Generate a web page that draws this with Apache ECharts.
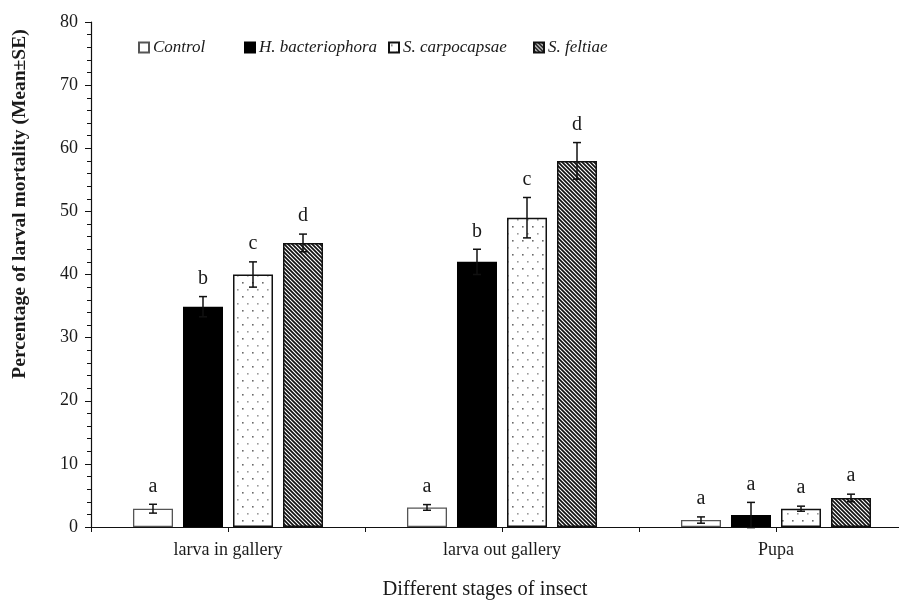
<!DOCTYPE html>
<html>
<head>
<meta charset="utf-8">
<script src="https://cdn.jsdelivr.net/npm/echarts@6/dist/echarts.min.js"></script>
<style>html,body{margin:0;padding:0;background:#fff;overflow:hidden}#c{width:913px;height:600px}</style>
</head>
<body>
<div id="c"></div>
<script>
const categories = ['larva in gallery', 'larva out gallery', 'Pupa'];
const seriesNames = ['Control', 'H. bacteriophora', 'S. carpocapsae', 'S. feltiae'];
const controlMean = [2.9, 3.1, 1.1];
const controlSE = [0.7, 0.45, 0.5];
const controlLetters = ['a', 'a', 'a'];
const hbMean = [34.9, 42.0, 1.9];
const hbSE = [1.6, 2.0, 2.0];
const hbLetters = ['b', 'b', 'a'];
const scMean = [40.0, 49.0, 2.9];
const scSE = [2.0, 3.2, 0.4];
const scLetters = ['c', 'c', 'a'];
const sfMean = [45.0, 58.0, 4.6];
const sfSE = [1.4, 2.9, 0.6];
const sfLetters = ['d', 'd', 'a'];
const yTicks = [0, 10, 20, 30, 40, 50, 60, 70, 80];

const means = [controlMean, hbMean, scMean, sfMean];
const ses = [controlSE, hbSE, scSE, sfSE];
const letters = [controlLetters, hbLetters, scLetters, sfLetters];

function dotPattern() {
  const c = document.createElement('canvas');
  c.width = 10; c.height = 14;
  const g = c.getContext('2d');
  g.fillStyle = '#fff'; g.fillRect(0, 0, 10, 14);
  g.fillStyle = '#6a6a6a';
  g.fillRect(2, 2, 1.6, 1.6);
  g.fillStyle = '#9a9a9a';
  g.fillRect(7, 9, 1.6, 1.6);
  return c;
}
function stripePattern() {
  const c = document.createElement('canvas');
  c.width = 4; c.height = 4;
  const g = c.getContext('2d');
  g.fillStyle = '#fff'; g.fillRect(0, 0, 4, 4);
  g.strokeStyle = '#111'; g.lineWidth = 1.7;
  g.beginPath();
  g.moveTo(-1, -1); g.lineTo(5, 5);
  g.moveTo(-1, 3); g.lineTo(1, 5);
  g.moveTo(3, -1); g.lineTo(5, 1);
  g.stroke();
  return c;
}

const fills = [
  { color: '#fff', borderColor: '#555', borderWidth: 1.3 },
  { color: '#000', borderColor: '#000', borderWidth: 1.3 },
  { color: { image: dotPattern(), repeat: 'repeat' }, borderColor: '#111', borderWidth: 1.5 },
  { color: { image: stripePattern(), repeat: 'repeat' }, borderColor: '#111', borderWidth: 1.5 }
];

const FONT = 'Liberation Serif, Times New Roman, serif';
const BAR_PCT = 0.146, GAP_RATIO = 0.25;

const series = [];
seriesNames.forEach((name, i) => {
  series.push({
    name: name,
    type: 'bar',
    data: means[i],
    barWidth: (BAR_PCT * 100) + '%',
    barGap: (GAP_RATIO * 100) + '%',
    itemStyle: fills[i],
    emphasis: { disabled: true },
    z: 2
  });
});
seriesNames.forEach((name, i) => {
  series.push({
    type: 'custom',
    name: name + ' err',
    coordinateSystem: 'cartesian2d',
    data: categories.map((c, k) => [k, means[i][k], ses[i][k], k]),
    encode: { x: 0, y: 1 },
    clip: false,
    z: 5,
    silent: true,
    renderItem: function (params, api) {
      const k = api.value(0);
      const m = api.value(1);
      const e = api.value(2);
      const bw = api.size([1, 0])[0];
      const barW = bw * BAR_PCT;
      const gap = barW * GAP_RATIO;
      const off = (i - 1.5) * (barW + gap);
      const c = api.coord([k, m]);
      const x = c[0] + off;
      const top = api.coord([k, m + e])[1];
      const bot = api.coord([k, m - e])[1];
      const cap = 4;
      const ls = { stroke: '#111', lineWidth: 1.5 };
      return {
        type: 'group',
        children: [
          { type: 'line', shape: { x1: x, y1: top, x2: x, y2: bot }, style: ls },
          { type: 'line', shape: { x1: x - cap, y1: top, x2: x + cap, y2: top }, style: ls },
          { type: 'line', shape: { x1: x - cap, y1: bot, x2: x + cap, y2: bot }, style: ls },
          { type: 'text', style: { text: letters[i][k], x: x, y: top - 8, align: 'center', verticalAlign: 'bottom', font: '20px ' + FONT, fill: '#1a1a1a' } }
        ]
      };
    }
  });
});

const legendLefts = [133, 239, 383, 528];
const legends = seriesNames.map((n, i) => ({
  data: [n],
  left: legendLefts[i], top: 34,
  itemWidth: 10, itemHeight: 10,
  icon: 'rect',
  textStyle: { fontFamily: FONT, fontStyle: 'italic', fontSize: 17, color: '#1a1a1a', padding: [0, 0, 0, -1] },
  selectedMode: false
}));

const chart = echarts.init(document.getElementById('c'), null, { renderer: 'canvas' });
chart.setOption({
  backgroundColor: '#fff',
  animation: false,
  grid: { left: 91, top: 22, right: 0, height: 505, containLabel: false },
  legend: legends,
  xAxis: [{
    type: 'category',
    data: categories,
    axisLine: { lineStyle: { color: '#111', width: 1.2 } },
    axisTick: { show: true, length: 5, lineStyle: { color: '#111' } },
    axisLabel: { fontFamily: FONT, fontSize: 18, color: '#1a1a1a', margin: 14 },
    splitLine: { show: false }
  }, {
    type: 'category',
    data: categories,
    position: 'bottom',
    axisLine: { show: false },
    axisTick: { show: true, alignWithLabel: true, length: 5, lineStyle: { color: '#111' } },
    axisLabel: { show: false },
    splitLine: { show: false }
  }],
  yAxis: {
    type: 'value',
    min: yTicks[0], max: yTicks[yTicks.length - 1], interval: 10,
    axisLine: { show: true, lineStyle: { color: '#111', width: 1.2 } },
    axisTick: { show: true, length: 6, lineStyle: { color: '#111' } },
    minorTick: { show: true, splitNumber: 5, length: 4, lineStyle: { color: '#111' } },
    splitLine: { show: false },
    axisLabel: { fontFamily: FONT, fontSize: 18, color: '#1a1a1a', margin: 13 }
  },
  graphic: [
    { type: 'text', x: 20, y: 204, rotation: Math.PI / 2, style: { text: 'Percentage of larval mortality (Mean±SE)', font: 'bold 19.5px ' + FONT, fill: '#1a1a1a', align: 'center', verticalAlign: 'middle' } },
    { type: 'text', x: 485, y: 590, style: { text: 'Different stages of insect', font: '20.5px ' + FONT, fill: '#1a1a1a', align: 'center', verticalAlign: 'middle' } }
  ],
  series: series
});
</script>
</body>
</html>
